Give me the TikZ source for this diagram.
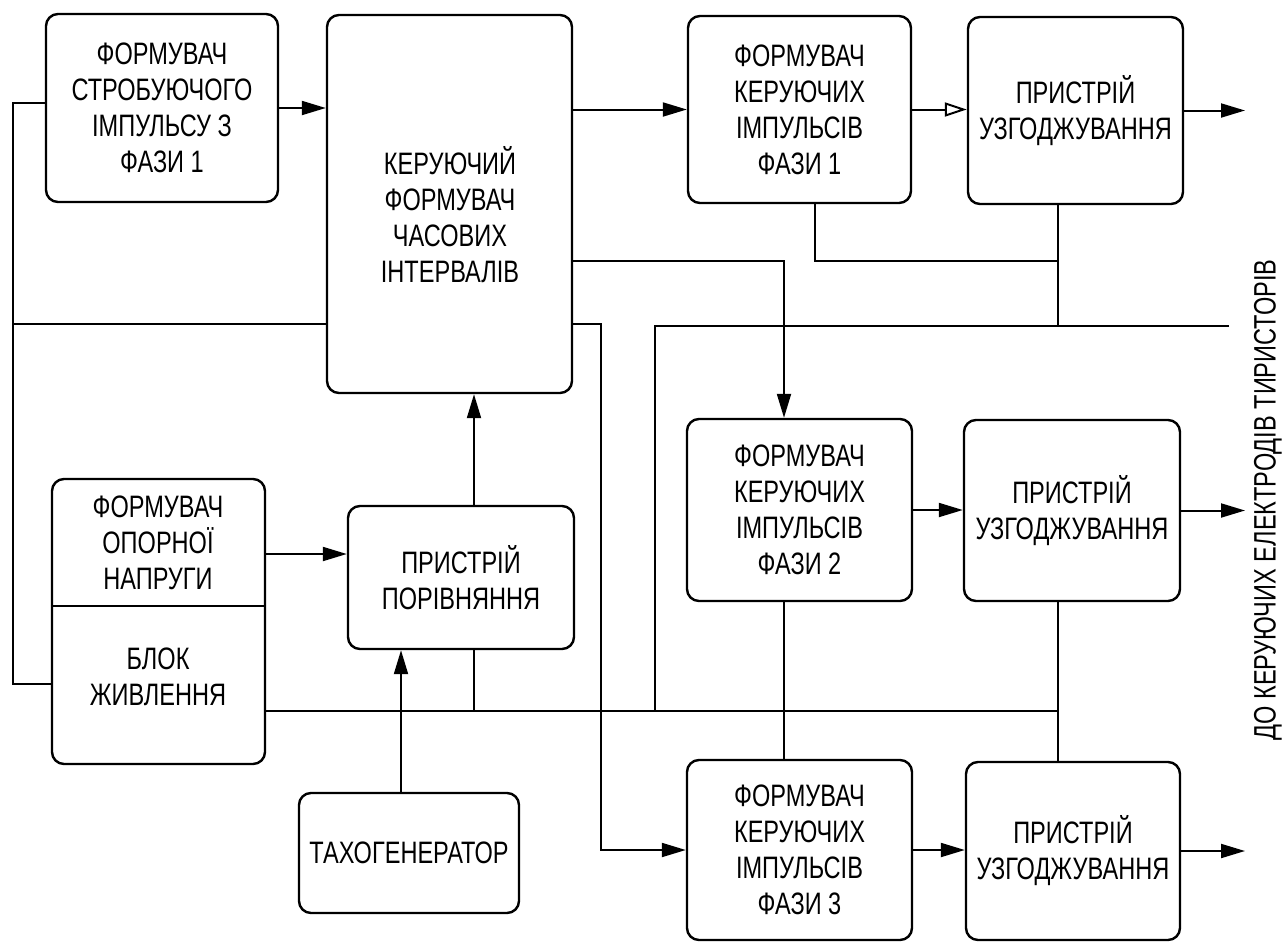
\documentclass[tikz,border=0pt]{standalone}
\usepackage{fontspec}
\setmainfont{Liberation Sans}[FakeStretch=0.76]
\usetikzlibrary{arrows.meta}
\begin{document}
\begin{tikzpicture}[x=0.5pt,y=-0.5pt,
  box/.style={draw, line width=1.2pt, rounded corners=6pt, align=center, inner sep=0pt},
  ln/.style={line width=1pt},
  arr/.style={ln, -{Triangle[length=12pt,width=7pt]}},
  oarr/.style={ln, -{Triangle[open,length=11pt,width=7pt]}},
  txt/.style={align=center, inner sep=0pt},
  font=\fontsize{15.5}{18}\selectfont]
\useasboundingbox (0,0) rectangle (1286,943);

% boxes
\node[box, minimum width=116pt, minimum height=94pt] (A) at (162,108)
  {ФОРМУВАЧ\\СТРОБУЮЧОГО\\ІМПУЛЬСУ З\\ФАЗИ 1};
\node[box, minimum width=122.5pt, minimum height=189pt] (K) at (449.5,204) {};
\node[txt] (Kt) at (450,215) {КЕРУЮЧИЙ\\ФОРМУВАЧ\\ЧАСОВИХ\\ІНТЕРВАЛІВ};
\node[box, minimum width=111.5pt, minimum height=93.5pt] (F1) at (799.5,109.5)
  {ФОРМУВАЧ\\КЕРУЮЧИХ\\ІМПУЛЬСІВ\\ФАЗИ 1};
\node[box, minimum width=107.5pt, minimum height=93.5pt] (P1) at (1075.5,110.5)
  {ПРИСТРІЙ\\УЗГОДЖУВАННЯ};
\node[box, minimum width=112.5pt, minimum height=91pt] (F2) at (799.5,510)
  {ФОРМУВАЧ\\КЕРУЮЧИХ\\ІМПУЛЬСІВ\\ФАЗИ 2};
\node[box, minimum width=108pt, minimum height=90.5pt] (P2) at (1072,510.5)
  {ПРИСТРІЙ\\УЗГОДЖУВАННЯ};
\node[box, minimum width=112.5pt, minimum height=90pt] (F3) at (799.5,850)
  {ФОРМУВАЧ\\КЕРУЮЧИХ\\ІМПУЛЬСІВ\\ФАЗИ 3};
\node[box, minimum width=107pt, minimum height=89pt] (P3) at (1073,851)
  {ПРИСТРІЙ\\УЗГОДЖУВАННЯ};
\node[box, minimum width=106.5pt, minimum height=142.5pt] (PB) at (158.5,621.5) {};
\node[txt] (PBt) at (158,543) {ФОРМУВАЧ\\ОПОРНОЇ\\НАПРУГИ};
\node[txt] (PBb) at (158,677) {БЛОК\\ЖИВЛЕННЯ};
\node[box, minimum width=113pt, minimum height=71.5pt] (C) at (461,577.5)
  {ПРИСТРІЙ\\ПОРІВНЯННЯ};
\node[box, minimum width=110pt, minimum height=60pt] (T) at (409,853)
  {ТАХОГЕНЕРАТОР};
\node[txt, rotate=90] (lbl) at (1268,500) {ДО КЕРУЮЧИХ ЕЛЕКТРОДІВ ТИРИСТОРІВ};

% helper coordinates
\coordinate (Ltop) at (13,103);
\coordinate (Lbot) at (13,684);
\coordinate (J1) at (13,324);
\coordinate (c2) at (784,261);
\coordinate (c3) at (601,324);
\coordinate (c4) at (655,326);
\coordinate (ob) at (1229,326);
\coordinate (c5) at (815,261);
\coordinate (c6) at (1058,261);
\coordinate (bus) at (265,711);
\coordinate (cx) at (474,0);
\coordinate (tx) at (401,0);
\coordinate (pc) at (0,554);
\coordinate (dv) at (0,606);
\coordinate (o1) at (1245,0);

% divider in power block
\draw[ln] (PB.west |- dv) -- (PB.east |- dv);

% connectors
\draw[arr] (A.east) -- (A.east -| K.west);
\draw[arr] (F1.west -| K.east) -- (F1.west);
\draw[oarr] (F1.east) -- (F1.east -| P1.west);
\draw[arr] (P1.east) -- (P1.east -| o1);
\draw[ln] (A.west |- Ltop) -- (Ltop) -- (Lbot) -- (PB.west |- Lbot);
\draw[ln] (J1) -- (J1 -| K.west);
\draw[arr] (K.east |- c2) -- (c2) -- (c2 |- F2.north);
\draw[arr] (K.east |- c3) -- (c3) -- (c3 |- F3.west) -- (F3.west);
\draw[ln] (ob) -- (c4) -- (c4 |- bus);
\draw[ln] (F1.south -| c5) -- (c5) -- (c6);
\draw[ln] (P1.south -| c6) -- (c6 |- ob);
\draw[ln] (F2.south -| c2) -- (F3.north -| c2);
\draw[ln] (P2.south -| c6) -- (P3.north -| c6);
\draw[ln] (PB.east |- bus) -- (bus -| c6);
\draw[ln] (C.south -| cx) -- (cx |- bus);
\draw[arr] (C.north -| cx) -- (K.south -| cx);
\draw[arr] (T.north -| tx) -- (C.south -| tx);
\draw[arr] (PB.east |- pc) -- (C.west |- pc);
\draw[arr] (F2.east) -- (F2.east -| P2.west);
\draw[arr] (P2.east) -- (P2.east -| o1);
\draw[arr] (F3.east) -- (F3.east -| P3.west);
\draw[arr] (P3.east) -- (P3.east -| o1);
\end{tikzpicture}
\end{document}
